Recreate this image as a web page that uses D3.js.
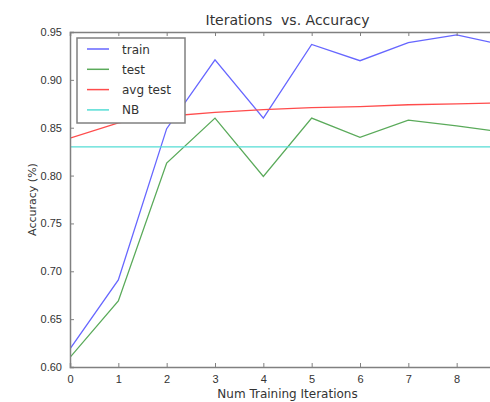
<!DOCTYPE html>
<html>
<head>
<meta charset="utf-8">
<script src="https://cdn.jsdelivr.net/npm/d3@7"></script>
<style>
  body { margin: 0; background: #fff; }
  svg { display: block; font-family: "DejaVu Sans", sans-serif; }
</style>
</head>
<body>
<svg id="chart" width="490" height="402"></svg>
<script>
// Iterations vs. Accuracy - line chart

const iterations = [0, 1, 2, 3, 4, 5, 6, 7, 8, 9]
const trainAcc = [0.619, 0.691, 0.849, 0.921, 0.860, 0.937, 0.920, 0.939, 0.947, 0.936]
const testAcc = [0.610, 0.669, 0.813, 0.860, 0.799, 0.860, 0.840, 0.858, 0.852, 0.845]
const avgTestAcc = [0.839, 0.855, 0.862, 0.866, 0.869, 0.871, 0.872, 0.874, 0.875, 0.876]
const nbAcc = 0.830
const xTicks = [0, 1, 2, 3, 4, 5, 6, 7, 8]
const yTicks = [0.60, 0.65, 0.70, 0.75, 0.80, 0.85, 0.90, 0.95]

const series = [
  { name: 'train', values: trainAcc, color: '#6666ff' },
  { name: 'test', values: testAcc, color: '#5aaa5a' },
  { name: 'avg test', values: avgTestAcc, color: '#ff4c4c' },
  { name: 'NB', values: iterations.map(() => nbAcc), color: '#55ddd5' }
]

const margin = { top: 32, left: 70 }
const plotW = 435
const plotH = 335

const svg = d3.select('#chart')
const g = svg.append('g').attr('transform', `translate(${margin.left},${margin.top})`)

const x = d3.scaleLinear().domain([0, 9]).range([0, plotW])
const y = d3.scaleLinear().domain([0.60, 0.95]).range([plotH, 0])

const textColor = '#333'
const spineColor = '#808080'

// Lines (clipped to plot area)
g.append('clipPath').attr('id', 'clip')
  .append('rect').attr('width', plotW).attr('height', plotH)

const line = d3.line()
  .x((d, i) => x(iterations[i]))
  .y(d => y(d))

const lines = g.append('g').attr('clip-path', 'url(#clip)')
series.forEach(s => {
  lines.append('path')
    .attr('d', line(s.values))
    .attr('fill', 'none')
    .attr('stroke', s.color)
    .attr('stroke-width', 1.3)
})

// Axes: ticks point inward, like matplotlib classic
const xAxis = g.append('g')
  .attr('transform', `translate(0,${plotH})`)
  .call(d3.axisBottom(x).tickValues(xTicks).tickSize(-4).tickPadding(8).tickFormat(d3.format('d')))
const xTop = g.append('g')
  .call(d3.axisTop(x).tickValues(xTicks).tickSize(-4).tickFormat(''))
const yAxis = g.append('g')
  .call(d3.axisLeft(y).tickValues(yTicks).tickSize(-4).tickPadding(8).tickFormat(d3.format('.2f')))

;[xAxis, xTop, yAxis].forEach(a => {
  a.select('.domain').attr('stroke', spineColor).attr('stroke-width', 1.5)
  a.selectAll('.tick line').attr('stroke', spineColor)
  a.selectAll('.tick text')
    .attr('fill', textColor)
    .style('font-size', '11px')
})

// Title and axis labels
svg.append('text')
  .attr('x', margin.left + plotW / 2)
  .attr('y', 25)
  .attr('text-anchor', 'middle')
  .attr('fill', textColor)
  .style('font-size', '14px')
  .style('white-space', 'pre')
  .text('Iterations  vs. Accuracy')

svg.append('text')
  .attr('x', margin.left + plotW / 2)
  .attr('y', 398)
  .attr('text-anchor', 'middle')
  .attr('fill', textColor)
  .style('font-size', '12px')
  .text('Num Training Iterations')

svg.append('text')
  .attr('transform', `translate(36,${margin.top + plotH / 2}) rotate(-90)`)
  .attr('text-anchor', 'middle')
  .attr('fill', textColor)
  .style('font-size', '11px')
  .text('Accuracy (%)')

// Legend
const legend = svg.append('g').attr('transform', 'translate(77,38)')
legend.append('rect')
  .attr('width', 108)
  .attr('height', 85)
  .attr('fill', '#fff')
  .attr('stroke', '#808080')
  .attr('stroke-width', 1.5)

series.forEach((s, i) => {
  const row = legend.append('g').attr('transform', `translate(0,${11 + i * 20.3})`)
  row.append('line')
    .attr('x1', 10).attr('x2', 32)
    .attr('stroke', s.color)
    .attr('stroke-width', 1.5)
  row.append('text')
    .attr('x', 45)
    .attr('y', 4.5)
    .attr('fill', textColor)
    .style('font-size', '12px')
    .text(s.name)
})
</script>
</body>
</html>
